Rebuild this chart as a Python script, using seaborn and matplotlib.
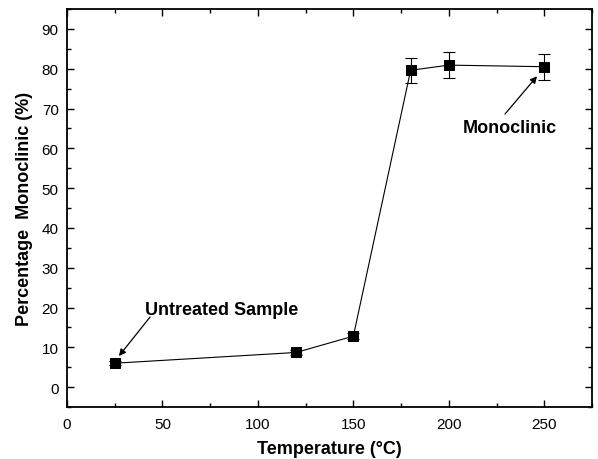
import matplotlib
matplotlib.use("Agg")
import matplotlib.pyplot as plt
import seaborn as sns
import pandas as pd
from matplotlib.ticker import MultipleLocator

# Monoclinic fraction versus treatment temperature
temperature = [25, 120, 150, 180, 200, 250]
monoclinic = [6.0, 8.7, 12.8, 79.6, 80.9, 80.5]
error = [0.5, 0.6, 0.7, 3.1, 3.2, 3.3]

df = pd.DataFrame({"Temperature": temperature, "Monoclinic": monoclinic, "err": error})

sns.set_style("ticks")
plt.rcParams["font.family"] = ["Liberation Sans", "DejaVu Sans"]
plt.rcParams["text.color"] = "black"
plt.rcParams["axes.labelcolor"] = "black"

fig = plt.figure(figsize=(5.98, 4.60), dpi=100)
ax = fig.add_axes([67 / 598, 1 - 408 / 460, (592 - 67) / 598, (408 - 10) / 460])

ax.errorbar(df["Temperature"], df["Monoclinic"], yerr=df["err"], fmt="none",
            ecolor="black", elinewidth=0.8, capsize=4.5, capthick=0.8, zorder=2)
sns.lineplot(data=df, x="Temperature", y="Monoclinic", ax=ax, color="black",
             linewidth=0.8, marker="s", markersize=7, markeredgecolor="black",
             markerfacecolor="black", zorder=3)

ax.set_xlim(0, 275)
ax.set_ylim(-5, 95)
ax.xaxis.set_major_locator(MultipleLocator(50))
ax.xaxis.set_minor_locator(MultipleLocator(25))
ax.yaxis.set_major_locator(MultipleLocator(10))
ax.yaxis.set_minor_locator(MultipleLocator(5))
ax.tick_params(which="both", direction="in", top=True, right=True, width=1,
               labelsize=11, colors="black", labelcolor="black")
ax.tick_params(which="major", length=5)
ax.tick_params(which="minor", length=3)
ax.tick_params(axis="x", which="major", pad=7)
ax.tick_params(axis="y", which="major", pad=6)
for s in ax.spines.values():
    s.set_linewidth(1.3)
    s.set_color("black")

ax.set_xlabel("Temperature (\u00b0C)", fontsize=13, fontweight="bold", labelpad=7)
ax.set_ylabel("Percentage  Monoclinic (%)", fontsize=13, fontweight="bold", labelpad=6)

arrow = dict(arrowstyle="-|>", color="black", lw=0.9, mutation_scale=10,
             shrinkA=0, shrinkB=0)

# Callout for the untreated starting material
ax.text(41, 19.5, "Untreated Sample", fontsize=13, fontweight="bold",
        ha="left", va="center")
ax.annotate("", xy=(27.2, 7.8), xytext=(43.5, 17.6), arrowprops=arrow)

# Callout for the fully converted phase
ax.text(232, 65.3, "Monoclinic", fontsize=13, fontweight="bold",
        ha="center", va="center")
ax.annotate("", xy=(246.2, 78.1), xytext=(229.4, 68.6), arrowprops=arrow)

fig.savefig("out.png", dpi=100)
